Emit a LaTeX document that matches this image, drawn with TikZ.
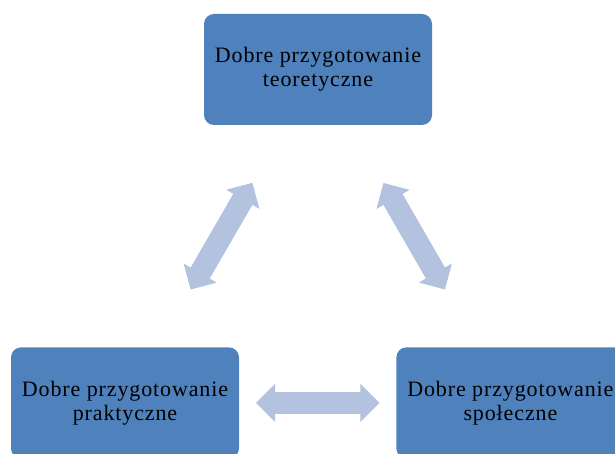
\documentclass[tikz,border=0pt]{standalone}
\usepackage{fontspec}
\setmainfont[LetterSpace=4]{Liberation Serif}
\usetikzlibrary{arrows.meta, positioning}

\definecolor{niebieski}{HTML}{4F81BD}
\definecolor{jasny}{HTML}{B3C2DE}

\begin{document}
\begin{tikzpicture}[
    x=1pt, y=-1pt,
    font=\fontsize{22}{24}\selectfont,
    blok/.style={fill=niebieski, rounded corners=10pt, minimum width=228pt, minimum height=111pt, align=center, inner sep=0pt},
    grot/.tip={Triangle[width=38pt, length=19pt, line width=1pt]},
    strzalka/.style={jasny, line width=22pt, grot-grot, shorten <=131pt, shorten >=131pt}
]
    \useasboundingbox (0,0) rectangle (615,454);

    \node[blok] (teoria) at (318,69.5) {Dobre przygotowanie\\teoretyczne};
    \node[blok, below=222pt of teoria, xshift=-193pt] (praktyka) {Dobre przygotowanie\\praktyczne};
    \node[blok, right=157pt of praktyka] (spoleczne) {Dobre przygotowanie\\społeczne};

    \draw[strzalka] (teoria.center) -- (praktyka.center);
    \draw[strzalka] (teoria.center) -- (spoleczne.center);
    \draw[strzalka] (praktyka.center) -- (spoleczne.center);
\end{tikzpicture}
\end{document}
